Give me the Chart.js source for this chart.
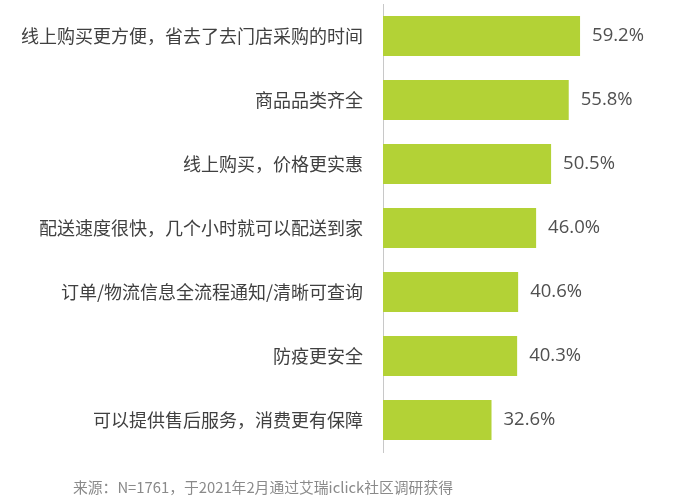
<!DOCTYPE html>
<html>
<head>
<meta charset="utf-8">
<script src="https://cdn.jsdelivr.net/npm/chart.js@4/dist/chart.umd.min.js"></script>
<style>
  body { margin: 0; background: #fff; }
  #wrap { position: relative; width: 674px; height: 500px; }
  #note { position: absolute; left: 73px; top: 476px; font: 14.8px "Noto Sans CJK SC", "Open Sans", sans-serif; color: #8a8a8a; white-space: nowrap; }
</style>
</head>
<body>
<div id="wrap">
  <canvas id="myChart" width="674" height="500"></canvas>
  <div id="note">来源：N=1761，于2021年2月通过艾瑞iclick社区调研获得</div>
</div>
<script>
const labels = [
  "线上购买更方便，省去了去门店采购的时间",
  "商品品类齐全",
  "线上购买，价格更实惠",
  "配送速度很快，几个小时就可以配送到家",
  "订单/物流信息全流程通知/清晰可查询",
  "防疫更安全",
  "可以提供售后服务，消费更有保障"
];
const values = [59.2, 55.8, 50.5, 46.0, 40.6, 40.3, 32.6];
const barColor = "#b3d236";

// value labels at the end of each bar
const valueLabels = {
  id: "valueLabels",
  afterDatasetsDraw(chart) {
    const ctx = chart.ctx;
    const meta = chart.getDatasetMeta(0);
    ctx.save();
    ctx.font = '18.5px "Open Sans", sans-serif';
    ctx.fillStyle = "#505050";
    ctx.textBaseline = "middle";
    ctx.textAlign = "left";
    meta.data.forEach((bar, i) => {
      ctx.fillText(values[i].toFixed(1) + "%", bar.x + 12, bar.y);
    });
    ctx.restore();
  }
};

new Chart(document.getElementById("myChart"), {
  type: "bar",
  data: {
    labels: labels,
    datasets: [{
      data: values,
      backgroundColor: barColor,
      borderWidth: 0,
      barPercentage: 0.625,
      categoryPercentage: 1
    }]
  },
  options: {
    indexAxis: "y",
    responsive: false,
    animation: false,
    layout: { padding: { top: 4, bottom: 48, right: 58, left: 0 } },
    plugins: { legend: { display: false }, tooltip: { enabled: false } },
    scales: {
      x: { display: false, min: 0, max: 70 },
      y: {
        afterFit(scale) {
          scale.width = 383;
          scale.paddingTop = 0;
          scale.paddingBottom = 0;
        },
        grid: { display: false },
        border: { display: true, color: "#c8c8c8", width: 1 },
        ticks: {
          font: { size: 18, family: '"Noto Sans CJK SC", sans-serif' },
          color: "#404040",
          padding: 12
        }
      }
    }
  },
  plugins: [valueLabels]
});
</script>
</body>
</html>
